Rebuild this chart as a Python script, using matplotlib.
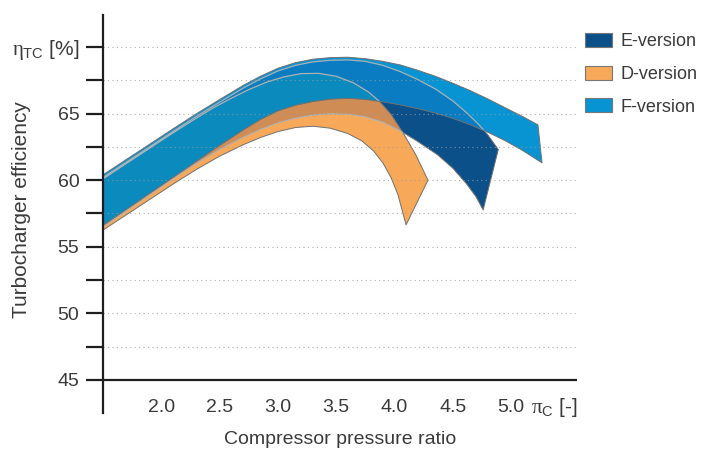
import matplotlib
matplotlib.use('Agg')
import matplotlib.pyplot as plt
from matplotlib.patches import Patch

plt.rcParams['font.family'] = ['Liberation Sans', 'DejaVu Sans']
plt.rcParams['mathtext.fontset'] = 'custom'
plt.rcParams['mathtext.rm'] = 'Liberation Sans'
plt.rcParams['mathtext.it'] = 'Liberation Serif'

# --- axes ---
x_ticks = [2.0, 2.5, 3.0, 3.5, 4.0, 4.5, 5.0]
x_tick_labels = ['2.0', '2.5', '3.0', '3.5', '4.0', '4.5', '5.0']
y_ticks = [45, 47.5, 50, 52.5, 55, 57.5, 60, 62.5, 65, 67.5, 70]
y_tick_labels = ['45', '', '50', '', '55', '', '60', '', '65', '', r'$\eta_{\mathrm{TC}}$ [%]']
grid_y = [47.5, 50, 52.5, 55, 57.5, 60, 62.5, 65, 67.5, 70]

versions = ['E-version', 'D-version', 'F-version']

# --- bands: pressure ratio vs efficiency [%], edges listed left to right ---
f_up_x = [1.5, 1.7, 1.9, 2.1, 2.3, 2.5, 2.7, 2.85, 3.0, 3.15, 3.3, 3.45, 3.6, 3.75,
          3.9, 4.05, 4.2, 4.35, 4.5, 4.65, 4.8, 4.95, 5.1, 5.23]
f_up_y = [60.4, 61.55, 62.7, 63.85, 64.98, 66.05, 67.1, 67.8, 68.4, 68.82, 69.08, 69.2, 69.23, 69.12,
          68.92, 68.65, 68.25, 67.8, 67.28, 66.72, 66.1, 65.43, 64.77, 64.15]
f_lo_x = [1.5, 1.7, 1.9, 2.1, 2.3, 2.5, 2.7, 2.85, 3.0, 3.15, 3.3, 3.45, 3.6, 3.75,
          3.9, 4.05, 4.2, 4.35, 4.5, 4.65, 4.8, 4.95, 5.1, 5.265]
f_lo_y = [56.6, 57.8, 59.0, 60.2, 61.4, 62.6, 63.75, 64.55, 65.2, 65.62, 65.9, 66.08, 66.14, 66.06,
          65.88, 65.65, 65.37, 65.04, 64.64, 64.16, 63.6, 62.96, 62.22, 61.3]

e_up_x = [1.5, 1.7, 1.9, 2.1, 2.3, 2.5, 2.7, 2.85, 3.0, 3.15, 3.3, 3.45, 3.6, 3.75,
          3.9, 4.05, 4.2, 4.35, 4.5, 4.62, 4.72, 4.8, 4.89]
e_up_y = [60.2, 61.35, 62.5, 63.65, 64.78, 65.85, 66.9, 67.6, 68.2, 68.62, 68.88, 69.0, 69.03, 68.92,
          68.62, 68.15, 67.55, 66.85, 65.95, 65.05, 64.2, 63.4, 62.3]
e_lo_x = [1.5, 1.7, 1.9, 2.1, 2.3, 2.5, 2.7, 2.85, 3.0, 3.15, 3.3, 3.45, 3.6, 3.75,
          3.9, 4.07, 4.2, 4.37, 4.5, 4.62, 4.7, 4.76]
e_lo_y = [56.5, 57.7, 58.9, 60.1, 61.25, 62.3, 63.2, 63.8, 64.3, 64.65, 64.88, 64.98, 64.95, 64.75,
          64.35, 63.6, 62.9, 61.9, 60.9, 59.7, 58.75, 57.76]

d_up_x = [1.5, 1.7, 1.9, 2.1, 2.3, 2.45, 2.6, 2.75, 2.9, 3.05, 3.2, 3.35, 3.5, 3.65,
          3.78, 3.876, 3.97, 4.07, 4.18, 4.287]
d_up_y = [60.1, 61.25, 62.4, 63.55, 64.65, 65.45, 66.15, 66.8, 67.35, 67.75, 68.0, 68.02, 67.8, 67.3,
          66.6, 65.87, 64.95, 63.6, 61.95, 60.0]
d_lo_x = [1.5, 1.7, 1.9, 2.1, 2.3, 2.5, 2.7, 2.85, 3.0, 3.15, 3.3, 3.45, 3.6, 3.72,
          3.82, 3.9, 3.97, 4.03, 4.099]
d_lo_y = [56.25, 57.4, 58.55, 59.7, 60.8, 61.8, 62.65, 63.2, 63.65, 63.95, 64.05, 63.9, 63.5, 62.95,
          62.2, 61.3, 60.2, 58.9, 56.64]

c_e = '#0c5089'
c_d = '#f8a859'
c_f = '#0894d2'
c_fe = '#0a7dc2'    # F over E
c_de = '#cf8c55'    # D over E
c_dfe = '#0b8abd'   # all three
c_edge = '#707070'
c_axis = '#1e1e1e'
c_text = '#3a3a3a'


def outline(ux, uy, lx, ly):
    return ux + lx[::-1] + ux[:1], uy + ly[::-1] + uy[:1]


fig = plt.figure(figsize=(7.18, 4.49), dpi=100)
ax = fig.add_axes([103 / 718, 36 / 449, 474 / 718, 398 / 449])
ax.set_xlim(1.5, 5.565)
ax.set_ylim(42.52, 72.4)

ex, ey = outline(e_up_x, e_up_y, e_lo_x, e_lo_y)
fx, fy = outline(f_up_x, f_up_y, f_lo_x, f_lo_y)
dx, dy = outline(d_up_x, d_up_y, d_lo_x, d_lo_y)

e_patch = ax.fill(ex, ey, color=c_e, lw=0, zorder=2)[0]
f_patch = ax.fill(fx, fy, color=c_f, lw=0, zorder=2)[0]
p = ax.fill(fx, fy, color=c_fe, lw=0, zorder=2)[0]
p.set_clip_path(e_patch)
d_patch = ax.fill(dx, dy, color=c_d, lw=0, zorder=2)[0]
p = ax.fill(dx, dy, color=c_de, lw=0, zorder=2)[0]
p.set_clip_path(e_patch)
p = ax.fill(dx, dy, color=c_dfe, lw=0, zorder=2)[0]
p.set_clip_path(f_patch)

# edges: grey outside, light where hidden under another band
ax.plot(ex, ey, color=c_edge, lw=0.7, zorder=3)
ax.plot(dx, dy, color=c_edge, lw=0.7, zorder=3)
for xs, ys, clip in [(ex, ey, f_patch), (ex, ey, d_patch), (dx, dy, f_patch)]:
    ln, = ax.plot(xs, ys, color='white', alpha=0.45, lw=0.9, zorder=4)
    ln.set_clip_path(clip)
ax.plot(fx, fy, color=c_edge, lw=0.7, zorder=5)

for y in grid_y:
    ax.axhline(y, color='#9c9c9c', lw=0.8, ls=(0, (1, 3)), alpha=0.8, zorder=6)
ax.axhline(45, color=c_axis, lw=1.6, zorder=7)

for s in ['top', 'right', 'bottom']:
    ax.spines[s].set_visible(False)
ax.spines['left'].set_linewidth(1.6)
ax.spines['left'].set_color(c_axis)
ax.spines['left'].set_zorder(8)

ax.set_yticks(y_ticks, y_tick_labels)
ax.tick_params(axis='y', length=12, width=1.6, color=c_axis, pad=5,
               labelsize=14, labelcolor=c_text)
ax.get_yticklabels()[-1].set_fontsize(15)
ax.set_xticks(x_ticks, x_tick_labels)
ax.tick_params(axis='x', length=0, pad=-10, labelsize=14, labelcolor=c_text)

ax.text(5.565, 42.52, r'$\pi_{\mathrm{C}}$ [-]', ha='right', va='baseline',
        fontsize=15, color=c_text, clip_on=False)

fig.text(22 / 718, 1 - 210 / 449, 'Turbocharger efficiency', rotation=90,
         ha='center', va='center', fontsize=15, color=c_text)
fig.text(340 / 718, 1 - 439 / 449, 'Compressor pressure ratio',
         ha='center', va='center', fontsize=14, color=c_text)

handles = [Patch(facecolor=c, edgecolor='#777777', lw=0.8) for c in [c_e, c_d, c_f]]
fig.legend(handles, versions, loc='upper left', bbox_to_anchor=(585 / 718, 1 - 33 / 449),
           frameon=False, fontsize=13, handlelength=1.5, handleheight=0.8,
           handletextpad=0.45, labelspacing=0.86, borderpad=0, borderaxespad=0,
           labelcolor=c_text)

fig.savefig('out.png', dpi=100)
